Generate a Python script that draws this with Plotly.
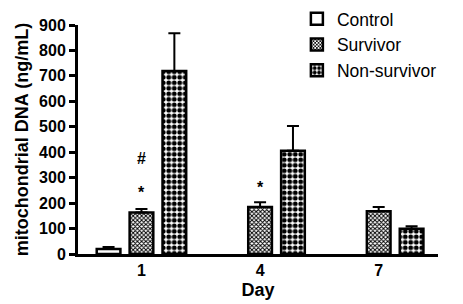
import plotly.graph_objects as go

days = ["1", "4", "7"]
control = [20, None, None]
control_err = [8, None, None]
survivor = [163, 185, 168]
survivor_err = [14, 18, 17]
nonsurvivor = [719, 406, 99]
nonsurvivor_err = [149, 97, 10]

sig_days = ["1", "1", "4"]
sig_marks = ["#", "*", "*"]
sig_y = [377, 243, 263]

FONT = "Liberation Sans, Arial, sans-serif"

fig = go.Figure()

def add(name, vals, errs, shape, size, solidity):
    fig.add_trace(go.Bar(
        name=name, x=days, y=vals,
        marker=dict(color="white", line=dict(color="black", width=2.5),
                    pattern=dict(shape=shape, size=size, solidity=solidity,
                                 fgcolor="black", bgcolor="white", fillmode="replace")),
        error_y=dict(type="data", symmetric=False, array=errs,
                     arrayminus=[0 if e is not None else None for e in errs],
                     color="black", thickness=2, width=6),
    ))

add("Control", control, control_err, "", 8, 0.3)
add("Survivor", survivor, survivor_err, "x", 3, 0.55)
add("Non-survivor", nonsurvivor, nonsurvivor_err, ".", 5.5, 0.6)

for d, m, yv in zip(sig_days, sig_marks, sig_y):
    fig.add_annotation(x=days.index(d), y=yv, text=m, showarrow=False,
                       font=dict(family=FONT, size=16, color="black", weight="bold"))

fig.update_layout(
    width=463, height=304,
    margin=dict(l=78, r=25, t=25, b=50, autoexpand=False),
    paper_bgcolor="white", plot_bgcolor="white",
    barmode="group", bargap=0.168, bargroupgap=0.28,
    font=dict(family=FONT, color="black"),
    legend=dict(x=0.608, y=1.105, xanchor="left", yanchor="top",
                font=dict(family=FONT, size=17.5, color="black"),
                bgcolor="rgba(0,0,0,0)"),
    xaxis=dict(range=[-0.535, 2.5], showline=True, linecolor="black", linewidth=3,
               ticks="", showgrid=False, zeroline=False,
               tickfont=dict(family=FONT, size=16, weight="bold"),
               title=dict(text="Day", font=dict(family=FONT, size=18, weight="bold"), standoff=6)),
    yaxis=dict(range=[0, 900], dtick=100, showline=True, linecolor="black", linewidth=3,
               ticks="outside", ticklen=6, tickwidth=2.5, tickcolor="black",
               showgrid=False, zeroline=False,
               tickfont=dict(family=FONT, size=16, weight="bold"),
               title=dict(text="mitochondrial DNA (ng/mL)",
                          font=dict(family=FONT, size=18, weight="bold"), standoff=6)),
)

fig.write_html("out.html")
